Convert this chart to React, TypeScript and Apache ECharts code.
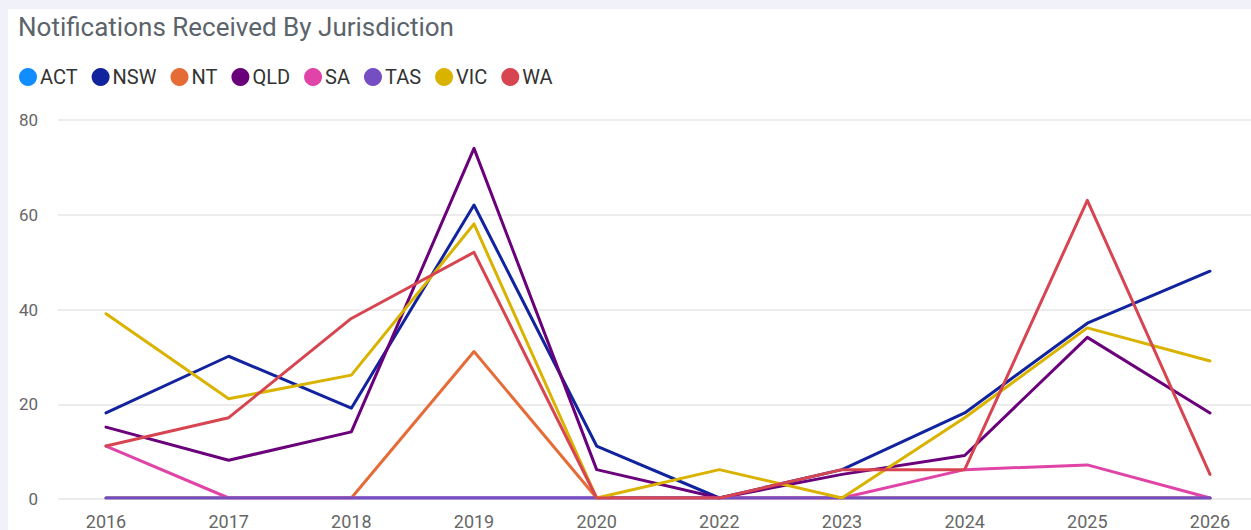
import React, { useEffect, useRef } from "react";
import * as echarts from "echarts";

const years = ["2016", "2017", "2018", "2019", "2020", "2022", "2023", "2024", "2025", "2026"];
const seriesNames = ["ACT", "NSW", "NT", "QLD", "SA", "TAS", "VIC", "WA"];
const colors = ["#118DFF", "#12239E", "#E66C37", "#6B007B", "#E044A7", "#744EC2", "#D9B300", "#D64550"];

const act = [0, 0, 0, 0, 0, 0, 0, 0, 0, 0];
const nsw = [18, 30, 19, 62, 11, 0, 6, 18, 37, 48];
const nt = [0, 0, 0, 31, 0, 0, 0, 0, 0, 0];
const qld = [15, 8, 14, 74, 6, 0, 5, 9, 34, 18];
const sa = [11, 0, 0, 0, 0, 0, 0, 6, 7, 0];
const tas = [0, 0, 0, 0, 0, 0, 0, 0, 0, 0];
const vic = [39, 21, 26, 58, 0, 6, 0, 17, 36, 29];
const wa = [11, 17, 38, 52, 0, 0, 6, 6, 63, 5];

const seriesValues = [act, nsw, nt, qld, sa, tas, vic, wa];
const yTicks = { min: 0, max: 80, interval: 20 };

const FONT = "Roboto, 'DejaVu Sans', sans-serif";

export default function App() {
  const ref = useRef<HTMLDivElement>(null);

  useEffect(() => {
    if (!ref.current) return;
    const chart = echarts.init(ref.current, undefined, { renderer: "svg" });
    chart.setOption({
      animation: false,
      backgroundColor: "#ffffff",
      color: colors,
      title: {
        text: "Notifications Received By Jurisdiction",
        left: 10,
        top: 5,
        padding: 0,
        textStyle: { fontFamily: FONT, fontSize: 26, fontWeight: "normal", color: "#5b636b" },
      },
      legend: {
        left: 11,
        top: 58,
        padding: 0,
        icon: "circle",
        itemWidth: 18,
        itemHeight: 18,
        itemGap: 14,
        data: seriesNames,
        textStyle: { fontFamily: FONT, fontSize: 20, color: "#333333", padding: [0, 0, 0, -2] },
      },
      grid: [
        { left: 98, right: 41, top: 111, bottom: 31 },
        { left: 50, right: 0, top: 111, bottom: 31 },
      ],
      xAxis: [
        {
          gridIndex: 0,
          type: "category",
          data: years,
          boundaryGap: false,
          axisLine: { show: false },
          axisTick: { show: false },
          splitLine: { show: false },
          axisLabel: { fontFamily: FONT, fontSize: 18, color: "#666666", margin: 14 },
        },
        {
          gridIndex: 1,
          type: "category",
          data: years,
          show: false,
        },
      ],
      yAxis: [
        {
          gridIndex: 0,
          type: "value",
          min: yTicks.min,
          max: yTicks.max,
          interval: yTicks.interval,
          show: false,
          splitLine: { show: false },
        },
        {
          gridIndex: 1,
          type: "value",
          min: yTicks.min,
          max: yTicks.max,
          interval: yTicks.interval,
          axisLine: { show: false },
          axisTick: { show: false },
          axisLabel: { fontFamily: FONT, fontSize: 17, color: "#666666", margin: 20 },
          splitLine: { lineStyle: { color: "#e6e6e6", width: 1.5 } },
        },
      ],
      series: seriesNames.map((name, i) => ({
        name,
        type: "line",
        xAxisIndex: 0,
        yAxisIndex: 0,
        data: seriesValues[i],
        symbol: "none",
        lineStyle: { width: 3, color: colors[i], cap: "round", join: "round" },
        itemStyle: { color: colors[i] },
      })),
    });
    return () => chart.dispose();
  }, []);

  return (
    <div
      style={{
        position: "fixed",
        left: 0,
        top: 0,
        width: 1251,
        height: 530,
        background: "#f1f1fa",
        overflow: "hidden",
      }}
    >
      <div
        ref={ref}
        style={{ position: "absolute", left: 8, top: 9, width: 1243, height: 521, background: "#ffffff" }}
      />
    </div>
  );
}
